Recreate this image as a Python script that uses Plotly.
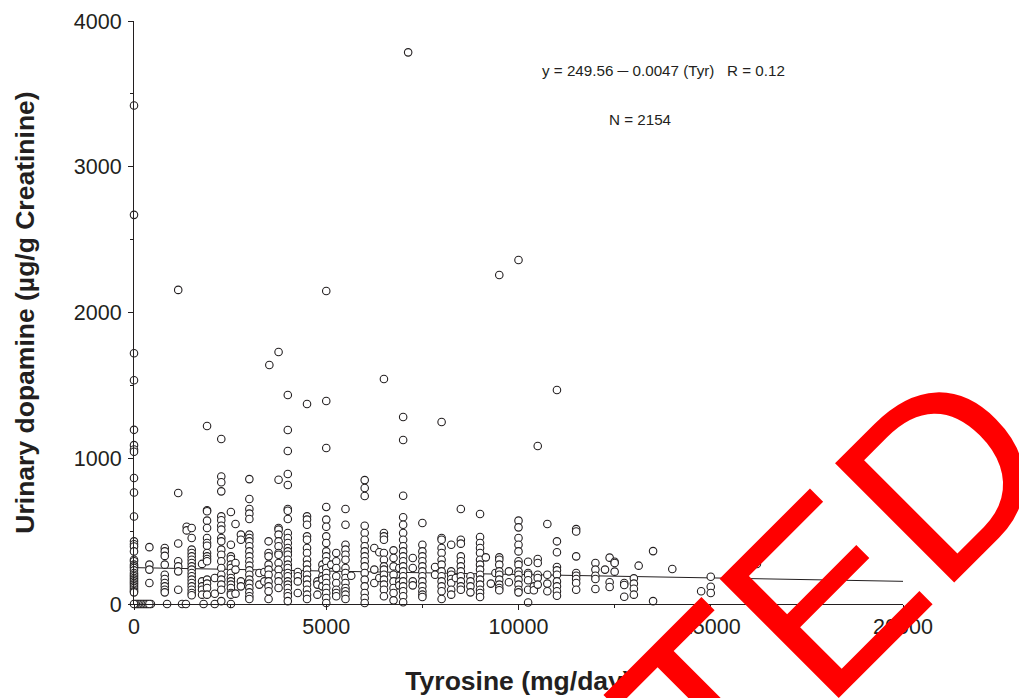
import plotly.graph_objects as go

col_0 = [3420,2670,1720,1535,1195,1090,1060,1045,865,765,600,430,410,395,361,304,293,270,258,247,231,213,201,190,178,167,155,144,133,121,110,98,87,80,0]
col_400 = [390,270,236,144,0]
col_800 = [384,361,330,270,201,172,144,121,98,80]
col_1150 = [2155,762,415,293,258,224,98]
col_1500 = [521,453,373,350,327,304,281,258,236,213,190,167,144,121,98,75,60]
col_1370 = [530,505]
col_1900 = [1221,643,636,572,521,453,419,400,350,327,309,293,167,140,110,64]
col_1770 = [275,155,121,98,64]
col_2100 = [178,70,0]
col_2270 = [1132,875,835,773,601,575,537,510,453,430,373,338,293,247,201,167,133,98,20]
col_2520 = [631,407,327,309,270,247,213,178,155,133,110,75,64,0]
col_2640 = [549,281,236,71]
col_2780 = [476,441,155,121]
col_3000 = [857,720,652,620,583,476,453,430,396,361,327,293,263,231,201,167,140,110,80,53,34]
col_3260 = [213,133]
col_3390 = [220,155]
col_3500 = [430,350,327,270,236,201,155,121,87,34]
col_3760 = [1729,853,521,510,476,430,396,350,338,281,236,190,155,110]
col_3520 = [1640]
col_4000 = [1434,1194,1050,892,816,652,640,583,487,453,419,384,361,338,304,270,247,213,190,155,133,110,75,53,20]
col_4260 = [220,190,155,75]
col_4500 = [1372,601,579,544,464,441,384,350,304,270,236,201,167,133,98,64,34]
col_4770 = [155,133,64]
col_4900 = [270,236,190,167,121]
col_5000 = [2148,1393,1070,666,579,530,464,419,361,327,293,247,213,178,144,110,75,41,7]
col_5130 = [270]
col_5260 = [350,293,247,190,144,98,75,53]
col_5500 = [652,544,407,373,338,304,247,213,178,144,110,87,64,34]
col_5650 = [194]
col_6000 = [850,796,741,537,487,441,396,361,327,293,258,213,167,121,75,41,7]
col_6250 = [384,236,144]
col_6380 = [355,178]
col_6500 = [1544,487,464,441,350,304,258,236,201,167,133,98,53]
col_6750 = [368,316,258,201,155,110,75,25]
col_6900 = [247,155,128]
col_7000 = [1283,1125,743,595,544,487,441,396,361,327,293,258,224,190,155,121,87,53,12]
col_7130 = [3785]
col_7250 = [316,247,155,128]
col_7500 = [556,407,361,327,293,258,224,190,155,121,87,64,48]
col_7830 = [254,201]
col_8000 = [1249,453,441,384,350,304,270,224,190,155,121,87,34]
col_8250 = [407,224,201,172,144,98,64]
col_8370 = [178]
col_8500 = [652,441,414,327,293,258,224,190,155,121,98]
col_8750 = [190,155,121,80]
col_9000 = [617,460,419,384,350,304,270,236,201,167,133,98,75,48]
col_9150 = [320]
col_9280 = [140]
col_9400 = [213]
col_9500 = [2257,320,304,270,224,201,167,133,110,94]
col_9750 = [224,149]
col_10000 = [2360,572,526,453,407,361,293,270,224,201,167,133,98,80]
col_10250 = [290,213,201,163,98,10]
col_10400 = [121,94]
col_10500 = [1084,309,281,201,178,133]
col_10750 = [549,201,140,87]
col_11000 = [1468,430,355,254,231,201,155,121,87,57]
col_11500 = [514,497,327,213,194,172,144,98]
col_12000 = [281,236,194,172,103]
col_12250 = [236]
col_12370 = [318,149,117]
col_12500 = [290,281,222]
col_12750 = [144,130,50]
col_13000 = [176,140,105,64]
col_13125 = [263]
col_13500 = [363,20]
col_14000 = [240]
col_14750 = [87]
col_15000 = [187,118,75]
col_16200 = [274]
zero_x = [40,80,120,160,200,240,280,320,360,440,860,1250,1350,1810]
zero_y = [0,0,0,0,0,0,0,0,0,0,0,0,0,0]

columns = {0:col_0,400:col_400,800:col_800,1150:col_1150,1370:col_1370,1500:col_1500,1770:col_1770,1900:col_1900,
 2100:col_2100,2270:col_2270,2520:col_2520,2640:col_2640,2780:col_2780,3000:col_3000,3260:col_3260,3390:col_3390,
 3500:col_3500,3520:col_3520,3760:col_3760,4000:col_4000,4260:col_4260,4500:col_4500,4770:col_4770,4900:col_4900,
 5000:col_5000,5130:col_5130,5260:col_5260,5500:col_5500,5650:col_5650,6000:col_6000,6250:col_6250,6380:col_6380,
 6500:col_6500,6750:col_6750,6900:col_6900,7000:col_7000,7130:col_7130,7250:col_7250,7500:col_7500,7830:col_7830,
 8000:col_8000,8250:col_8250,8370:col_8370,8500:col_8500,8750:col_8750,9000:col_9000,9150:col_9150,9280:col_9280,
 9400:col_9400,9500:col_9500,9750:col_9750,10000:col_10000,10250:col_10250,10400:col_10400,10500:col_10500,
 10750:col_10750,11000:col_11000,11500:col_11500,12000:col_12000,12250:col_12250,12370:col_12370,12500:col_12500,
 12750:col_12750,13000:col_13000,13125:col_13125,13500:col_13500,14000:col_14000,14750:col_14750,15000:col_15000,16200:col_16200}

xs = list(zero_x)
ys = list(zero_y)
for cx, vals in columns.items():
    xs += [cx] * len(vals)
    ys += vals

line_x = [0, 20000]
line_y = [249.56, 155.56]
x_ticks = [0, 5000, 10000, 15000, 20000]
y_ticks = [0, 1000, 2000, 3000, 4000]

FONT = "Liberation Sans, Arial, sans-serif"
INK = "#231f20"
W, H = 1019, 698
L, T, PW, PH = 133.5, 21, 770, 583

fig = go.Figure()
fig.add_trace(go.Scatter(x=line_x, y=line_y, mode="lines", line=dict(color=INK, width=1), cliponaxis=False, showlegend=False))
fig.add_trace(go.Scatter(x=xs, y=ys, mode="markers", cliponaxis=False, showlegend=False,
    marker=dict(symbol="circle", size=7.5, color="white", line=dict(color=INK, width=1.1))))

axis = dict(showgrid=False, zeroline=False, showline=True, linecolor=INK, linewidth=1,
            ticks="outside", ticklen=5, tickwidth=1, tickcolor=INK, automargin=False,
            tickfont=dict(family=FONT, size=21.5, color=INK))
fig.update_layout(
    width=W, height=H, autosize=False,
    margin=dict(l=L, r=W-L-PW, t=T, b=H-T-PH),
    paper_bgcolor="white", plot_bgcolor="white", showlegend=False,
    xaxis=dict(range=[0, 20000], tickvals=x_ticks, ticktext=[str(v) for v in x_ticks],
               minor=dict(tickvals=[2500, 7500, 12500, 17500], ticks="outside", ticklen=3, tickcolor=INK),
               ticklabelstandoff=-2,
               title=dict(text="<b>Tyrosine (mg/day)</b>", font=dict(family=FONT, size=26.5, color=INK), standoff=33), **axis),
    yaxis=dict(range=[0, 4000], tickvals=y_ticks, ticktext=[str(v) for v in y_ticks],
               minor=dict(tickvals=[500, 1500, 2500, 3500], ticks="outside", ticklen=3, tickcolor=INK),
               ticklabelstandoff=2,
               title=dict(text="<b>Urinary dopamine (µg/g Creatinine)</b>", font=dict(family=FONT, size=26.5, color=INK), standoff=31), **axis),
    annotations=[
        dict(text="y = 249.56 ─ 0.0047 (Tyr)   R = 0.12", xref="paper", yref="paper", x=(664-133.5)/PW, y=(604-70)/PH,
             xanchor="center", yanchor="middle", showarrow=False, font=dict(family=FONT, size=15.2, color=INK)),
        dict(text="N = 2154", xref="paper", yref="paper", x=(640-133.5)/PW, y=(604-119)/PH,
             xanchor="center", yanchor="middle", showarrow=False, font=dict(family=FONT, size=15.2, color=INK)),
        dict(text="TED", xref="paper", yref="paper", x=(832-133.5)/PW, y=(604-585)/PH, textangle=-45,
             xanchor="center", yanchor="middle", showarrow=False, font=dict(family=FONT, size=245, color="#ff0000")),
    ],
)
fig.write_html("out.html", config={"displayModeBar": False},
               post_script="document.body.style.margin='0';document.body.style.overflow='hidden';")
